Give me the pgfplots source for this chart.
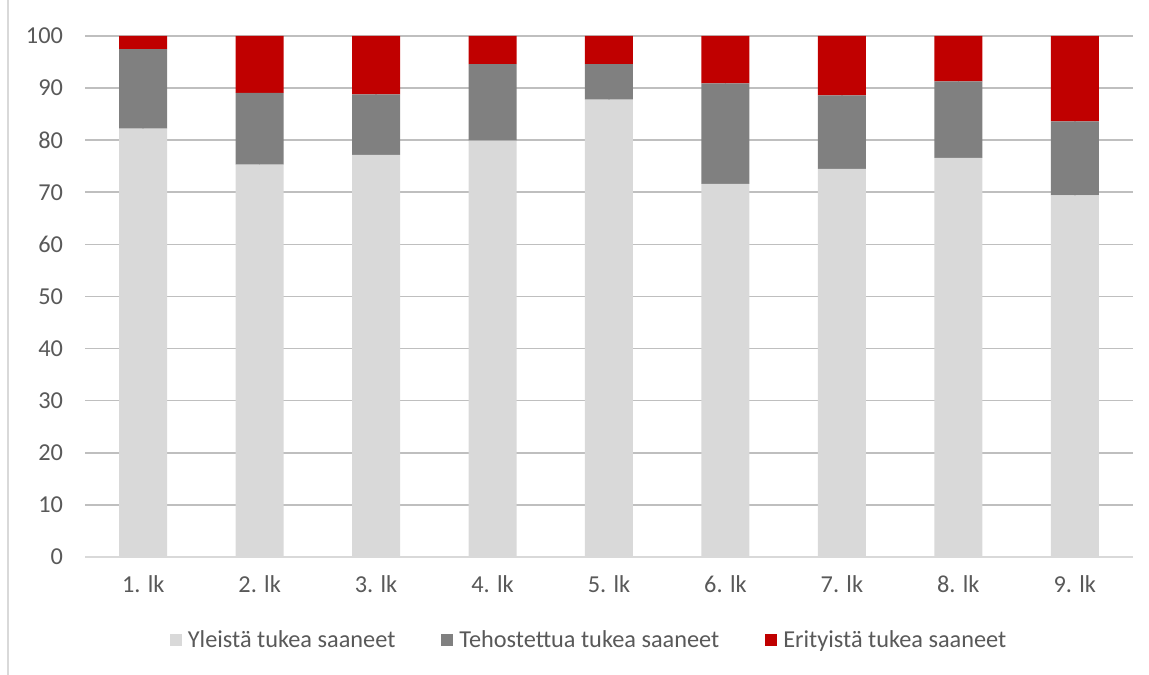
\documentclass[border=0pt]{standalone}
\usepackage{pgfplots}
\pgfplotsset{compat=1.18}
\usepackage{fontspec}
\setmainfont{Carlito}
\definecolor{lightb}{HTML}{D9D9D9}
\definecolor{midb}{HTML}{808080}
\definecolor{redb}{HTML}{C00000}
\definecolor{txt}{HTML}{595959}
\definecolor{grid}{HTML}{D9D9D9}
\begin{document}
\begin{tikzpicture}
\path[use as bounding box] (0,0) rectangle (574.5bp,337.5bp);
\draw[grid, line width=0.6bp] (4bp,0) -- (4bp,337.5bp);
\begin{axis}[
  at={(42.5bp,59bp)}, anchor=origin,
  scale only axis, width=524bp, height=260.5bp,
  ybar stacked, bar width=24bp,
  xmin=0.5, xmax=9.5, ymin=0, ymax=100,
  xtick={1,...,9},
  xticklabels={1. lk,2. lk,3. lk,4. lk,5. lk,6. lk,7. lk,8. lk,9. lk},
  ytick={0,10,...,100},
  ymajorgrids, grid style={grid, line width=0.8bp},
  axis x line*=bottom, axis y line*=left,
  x axis line style={grid, line width=0.8bp},
  y axis line style={draw=none},
  major tick length=0pt,
  tick label style={font=\fontsize{12.2}{14}\selectfont, text=txt},
  yticklabel style={xshift=-7.5bp},
  xticklabel style={yshift=-6bp},
  /pgf/number format/assume math mode=true,
  clip=false,
  legend style={draw=none, at={(0.482,-0.16)}, anchor=center, legend columns=3,
    font=\fontsize{12.2}{14}\selectfont, text=txt,
    /tikz/every odd column/.append style={column sep=1bp},
    /tikz/every even column/.append style={column sep=21bp}},
  legend image code/.code={\fill[#1] (0bp,-3bp) rectangle (6bp,3bp);},
]
\addplot[fill=lightb, draw=none] coordinates {(1,82.2) (2,75.3) (3,77.2) (4,79.9) (5,87.8) (6,71.6) (7,74.5) (8,76.6) (9,69.4)};
\addplot[fill=midb, draw=none] coordinates {(1,15.3) (2,13.8) (3,11.6) (4,14.7) (5,6.8) (6,19.3) (7,14.1) (8,14.7) (9,14.2)};
\addplot[fill=redb, draw=none] coordinates {(1,2.5) (2,10.9) (3,11.2) (4,5.4) (5,5.4) (6,9.1) (7,11.4) (8,8.7) (9,16.4)};
\legend{Yleistä tukea saaneet, Tehostettua tukea saaneet, Erityistä tukea saaneet}
\end{axis}
\end{tikzpicture}
\end{document}
